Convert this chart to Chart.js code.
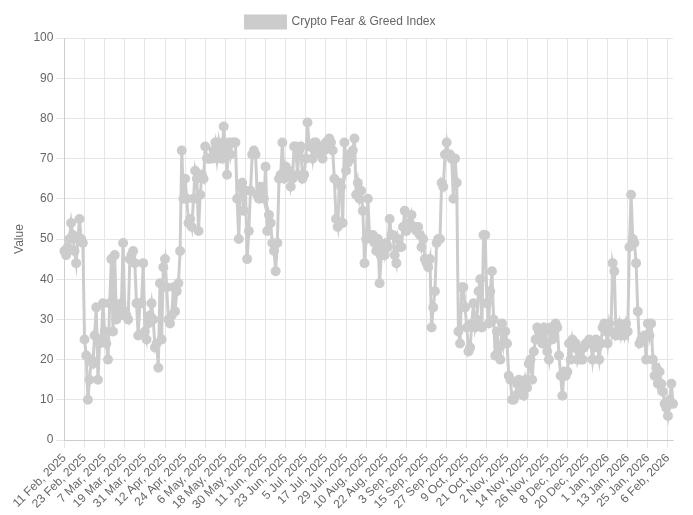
<!DOCTYPE html>
<html><head><meta charset="utf-8">
<script src="https://cdn.jsdelivr.net/npm/chart.js@4"></script>
<style>html,body{margin:0;padding:0;background:#fff}#w{width:693px;height:515px}</style>
</head><body><div id="w"><canvas id="c"></canvas></div>
<script>
const startDate = "2025-02-11";
const seriesName = "Crypto Fear & Greed Index";
const values = [
47,46,48,50,54,51,47,44,50,55,50,49,
25,21,10,15,20,19,26,33,15,24,25,34,
27,24,20,34,45,27,46,30,33,31,34,49,
32,31,30,45,46,47,44,34,26,34,34,44,
27,25,29,31,34,30,23,24,18,39,25,43,
45,38,30,29,31,38,32,37,39,47,72,60,
65,60,54,55,53,60,67,65,52,61,66,65,
73,70,70,70,70,72,74,70,74,71,70,78,
72,66,74,71,74,74,74,60,50,63,64,57,
62,45,52,62,71,72,71,61,60,63,62,60,
68,52,56,54,49,47,42,49,65,66,74,65,
68,66,67,63,65,73,73,66,72,73,65,66,
70,79,73,73,70,74,74,72,73,71,70,72,
74,73,75,74,72,65,55,53,64,63,54,74,
67,69,71,70,72,75,61,64,60,62,57,44,
50,60,51,50,51,49,47,50,39,46,48,46,
49,48,55,51,51,46,44,50,48,48,53,57,
52,53,54,56,53,53,52,53,51,48,50,45,
44,43,45,28,33,37,49,50,50,64,63,71,
74,71,71,70,60,70,64,27,24,38,38,33,
28,22,23,29,34,28,30,37,40,28,51,51,
34,29,37,42,30,21,27,23,20,29,24,27,
24,16,15,10,10,11,14,15,14,12,11,15,
13,19,20,15,22,25,28,27,25,24,28,27,
22,20,28,25,26,29,28,21,16,11,17,16,
17,24,20,25,23,24,20,22,20,20,23,24,
24,25,24,20,24,25,23,20,24,28,29,27,
24,29,27,44,42,26,27,29,26,28,26,29,
27,48,61,50,49,44,32,24,25,25,26,20,
29,26,29,20,16,18,14,17,14,12,9,8,
6,10,14,9
];
const months=["Jan","Feb","Mar","Apr","May","Jun","Jul","Aug","Sep","Oct","Nov","Dec"];
const labels=[];
const d0=new Date(startDate+"T00:00:00Z");
for(let i=0;i<values.length;i++){const d=new Date(d0.getTime()+i*86400000);labels.push(d.getUTCDate()+" "+months[d.getUTCMonth()]+", "+d.getUTCFullYear());}
const col='rgba(204,204,204,1)';
new Chart(document.getElementById('c'),{type:'line',
data:{labels,datasets:[{label:seriesName,data:values,borderColor:col,backgroundColor:col,borderWidth:3,pointRadius:3.5,pointBackgroundColor:col,tension:0}]},
options:{responsive:true,maintainAspectRatio:false,animation:false,
layout:{padding:{left:8,right:20,top:6,bottom:0}},
plugins:{legend:{labels:{color:'#666',font:{family:'Arial',size:12}}}},
scales:{x:{grid:{color:'#e5e5e5'},ticks:{autoSkip:false,maxRotation:45,minRotation:45,color:'#666',font:{family:'Arial',size:12},
callback:function(v,i){return i%12===0?labels[i]:null;}}},
y:{min:0,max:100,ticks:{stepSize:10,color:'#666',font:{family:'Arial',size:12}},grid:{color:'#e5e5e5'},title:{display:true,text:'Value',color:'#666',font:{family:'Arial',size:12}}}}}});
</script></body></html>
